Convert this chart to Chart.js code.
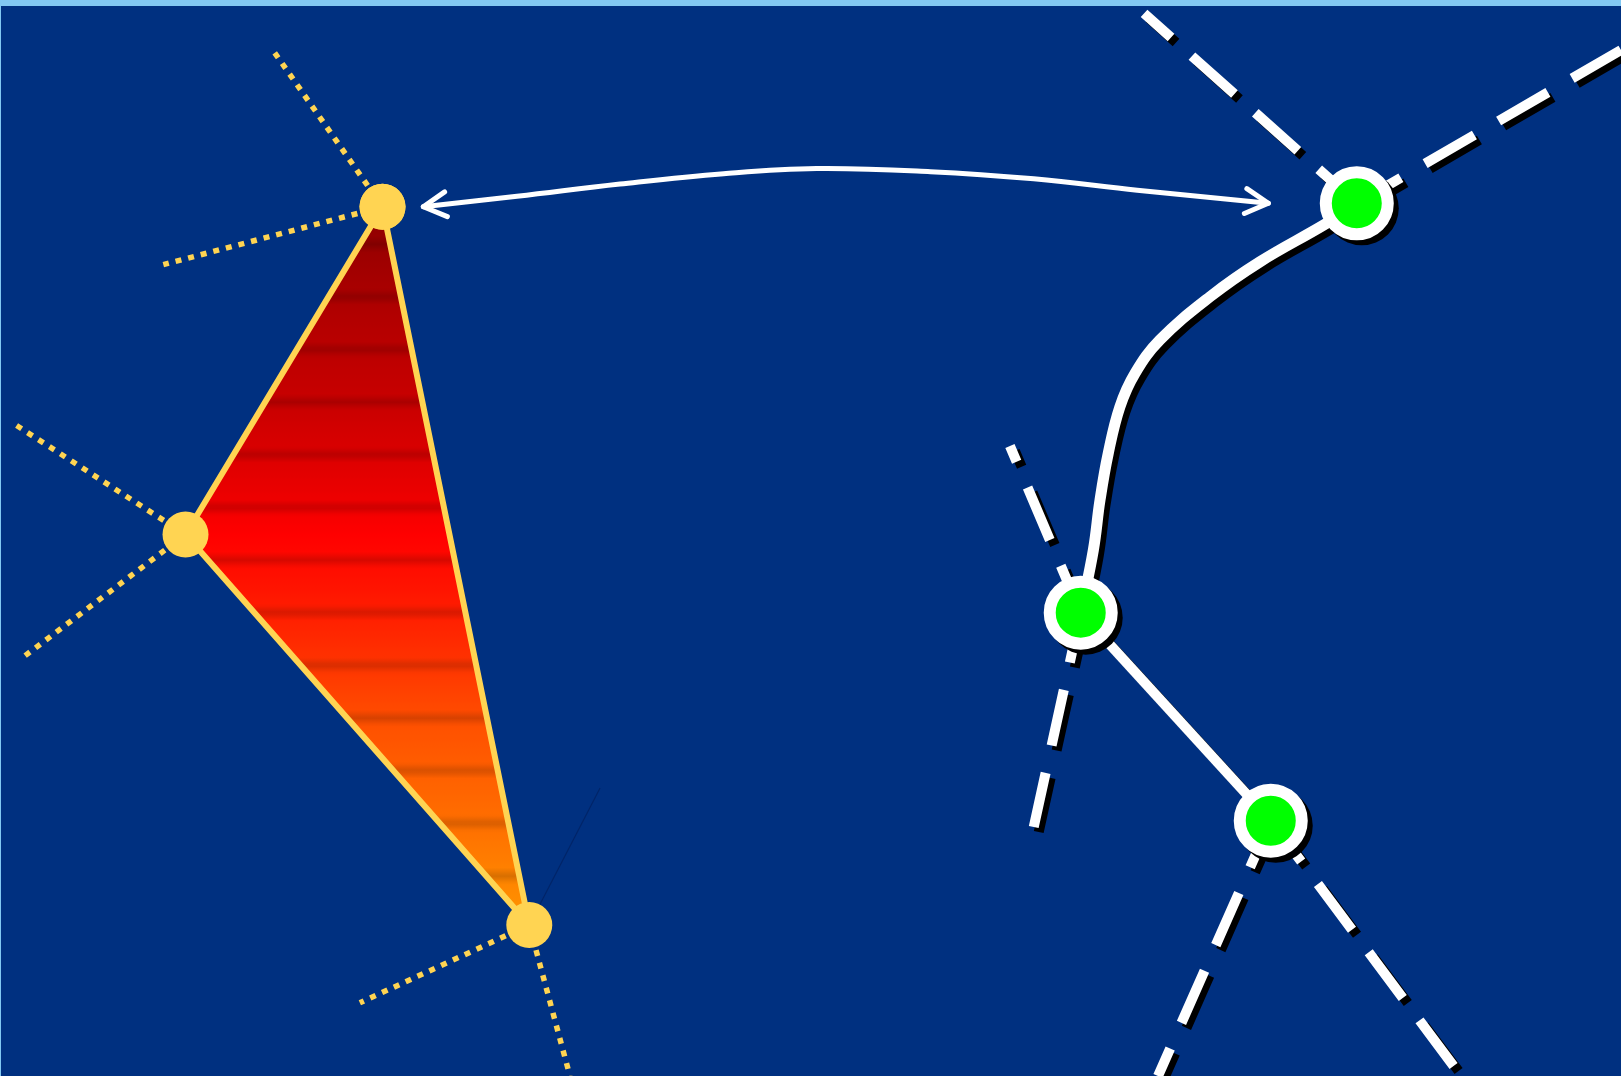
<!DOCTYPE html>
<html>
<head>
    <title>Spline Editor</title>
    <script src="https://cdn.jsdelivr.net/npm/chart.js"></script>
    <style>
        body { margin: 0; background: #82c8f2; overflow: hidden; }
    </style>
</head>
<body>
    <canvas id="editorChart" width="1621" height="1076"></canvas>

    <script>
        // plot units: x 0-100 left to right, y 0-100 bottom to top
        const triangleX = [23.55, 11.39, 32.61];
        const triangleY = [81.23, 50.61, 14.11];

        // dotted yellow guides, two per triangle corner
        const guideFrom = [0, 0, 1, 1, 2, 2];
        const guideX = [16.70, 10.02, 0.70, 1.34, 22.15, 35.12];
        const guideY = [96.05, 75.83, 61.05, 39.11, 6.84, 0];

        // green nodes and their dashed handles
        const nodeX = [83.69, 66.65, 78.38];
        const nodeY = [81.56, 43.30, 23.86];
        const handleFrom = [0, 0, 1, 1, 2, 2];
        const handleX = [70.56, 100, 62.28, 63.75, 71.42, 90.12];
        const handleY = [99.31, 95.89, 58.88, 23.27, 0, 0];

        // thick curve from first node to second
        const curveX = [83.69, 81.83, 77.72, 74.63, 71.54, 70.00, 69.07, 68.35, 67.84, 67.43, 66.65];
        const curveY = [81.56, 79.69, 76.10, 72.83, 68.79, 65.67, 62.55, 58.20, 53.83, 49.16, 43.30];

        // double headed arrow
        const arrowX = [26.07, 31.85, 38.21, 44.61, 50.35, 57.37, 63.75, 70.14, 78.23];
        const arrowY = [81.24, 82.21, 83.36, 84.33, 84.81, 84.52, 83.85, 82.79, 81.56];

        // faint line leaving the lower corner
        const faintX = [32.61, 36.98];
        const faintY = [14.11, 26.92];

        const navy = '#003080';
        const yellow = '#ffd452';

        const pt = (xs, ys, i) => ({ x: xs[i], y: ys[i] });

        // red to orange fill with darker horizontal bands
        const fillStops = [0, 0.143, 0.287, 0.389, 0.457, 0.575, 0.72, 0.864, 0.95, 1];
        const fillColors = [[140,0,0],[176,0,0],[204,0,0],[232,0,0],[255,0,0],[255,32,0],[255,80,0],[255,112,0],[255,136,0],[255,152,0]];

        function baseColor(t) {
            for (let i = 1; i < fillStops.length; i++) {
                if (t <= fillStops[i]) {
                    const f = (t - fillStops[i - 1]) / (fillStops[i] - fillStops[i - 1]);
                    return fillColors[i - 1].map((c, k) => c + (fillColors[i][k] - c) * f);
                }
            }
            return fillColors[fillColors.length - 1];
        }

        function triangleFill(context) {
            const chart = context.chart;
            if (!chart.chartArea) return 'red';
            const y = chart.scales.y;
            const top = y.getPixelForValue(triangleY[0]);
            const bottom = y.getPixelForValue(triangleY[2]);
            const g = chart.ctx.createLinearGradient(0, top, 0, bottom);
            const first = 0.1253, period = 0.0733, half = 0.011;
            for (let t = 0; t <= 1.0001; t += 0.004) {
                const tt = Math.min(t, 1);
                let d = ((tt - first) % period + period) % period;
                d = Math.min(d, period - d);
                const dark = 1 - 0.16 * Math.max(0, 1 - d / half);
                const c = baseColor(tt).map(v => Math.round(v * dark));
                g.addColorStop(tt, `rgb(${c[0]},${c[1]},${c[2]})`);
            }
            return g;
        }

        const datasets = [];

        datasets.push({
            label: 'nodes',
            data: nodeX.map((x, i) => pt(nodeX, nodeY, i)),
            pointRadius: 31,
            pointBorderWidth: 12,
            pointBackgroundColor: '#00ff00',
            pointBorderColor: '#ffffff',
            pointShadow: true,
            order: 0
        });

        datasets.push({
            label: 'arrow',
            data: arrowX.map((x, i) => pt(arrowX, arrowY, i)),
            showLine: true,
            tension: 0.4,
            borderColor: '#ffffff',
            borderWidth: 5,
            borderCapStyle: 'round',
            pointRadius: 0,
            arrows: true,
            order: 1
        });

        datasets.push({
            label: 'curve',
            data: curveX.map((x, i) => pt(curveX, curveY, i)),
            showLine: true,
            tension: 0.4,
            borderColor: '#ffffff',
            borderWidth: 11,
            borderCapStyle: 'round',
            borderJoinStyle: 'round',
            pointRadius: 0,
            shadow: true,
            order: 2
        });

        datasets.push({
            label: 'link',
            data: [pt(nodeX, nodeY, 1), pt(nodeX, nodeY, 2)],
            showLine: true,
            borderColor: '#ffffff',
            borderWidth: 10,
            pointRadius: 0,
            shadow: true,
            order: 2
        });

        handleX.forEach((x, i) => {
            datasets.push({
                label: 'handle ' + i,
                data: [pt(nodeX, nodeY, handleFrom[i]), pt(handleX, handleY, i)],
                showLine: true,
                borderColor: '#ffffff',
                borderWidth: 10,
                borderDash: [57, 28],
                borderDashOffset: 6,
                pointRadius: 0,
                shadow: true,
                order: 3
            });
        });

        datasets.push({
            label: 'triangle',
            data: [0, 1, 2, 0].map(i => pt(triangleX, triangleY, i)),
            showLine: true,
            fill: 'shape',
            backgroundColor: triangleFill,
            borderColor: yellow,
            borderWidth: 6,
            borderJoinStyle: 'round',
            pointRadius: 23,
            pointBorderWidth: 0,
            pointBackgroundColor: yellow,
            order: 4
        });

        guideX.forEach((x, i) => {
            datasets.push({
                label: 'guide ' + i,
                data: [pt(triangleX, triangleY, guideFrom[i]), pt(guideX, guideY, i)],
                showLine: true,
                borderColor: yellow,
                borderWidth: 5.5,
                borderDash: [6, 7],
                pointRadius: 0,
                order: 5
            });
        });

        datasets.push({
            label: 'faint',
            data: faintX.map((x, i) => pt(faintX, faintY, i)),
            showLine: true,
            borderColor: 'rgba(0, 10, 50, 0.3)',
            borderWidth: 1.2,
            pointRadius: 0,
            order: 6
        });

        const background = {
            id: 'background',
            beforeDraw(chart) {
                const { ctx, chartArea: a } = chart;
                ctx.save();
                ctx.fillStyle = '#82c8f2';
                ctx.fillRect(0, 0, chart.width, chart.height);
                ctx.fillStyle = navy;
                ctx.fillRect(a.left, a.top, a.right - a.left, a.bottom - a.top);
                ctx.restore();
            }
        };

        // hard black drop shadow, offset down-right
        const shadowOffset = 5;
        const shadows = {
            id: 'shadows',
            beforeDatasetDraw(chart, args) {
                const ds = chart.data.datasets[args.index];
                const ctx = chart.ctx;
                if (ds.pointShadow) {
                    ctx.save();
                    ctx.fillStyle = '#000000';
                    args.meta.data.forEach(el => {
                        const r = el.options.radius + el.options.borderWidth / 2;
                        ctx.beginPath();
                        ctx.arc(el.x + shadowOffset, el.y + shadowOffset, r, 0, Math.PI * 2);
                        ctx.fill();
                    });
                    ctx.restore();
                }
                if (!ds.shadow) return;
                ctx.save();
                ctx.shadowColor = '#000000';
                ctx.shadowOffsetX = shadowOffset;
                ctx.shadowOffsetY = shadowOffset;
                ctx.shadowBlur = 0;
            },
            afterDatasetDraw(chart, args) {
                if (chart.data.datasets[args.index].shadow) chart.ctx.restore();
            }
        };

        const arrowHeads = {
            id: 'arrowHeads',
            afterDatasetDraw(chart, args) {
                const ds = chart.data.datasets[args.index];
                if (!ds.arrows) return;
                const pts = args.meta.data;
                const first = pts[0], last = pts[pts.length - 1];
                const ends = [
                    [first, first.cp2x ?? pts[1].x, first.cp2y ?? pts[1].y],
                    [last, last.cp1x ?? pts[pts.length - 2].x, last.cp1y ?? pts[pts.length - 2].y]
                ];
                const ctx = chart.ctx;
                const len = 26, spread = 0.5;
                ctx.save();
                ctx.strokeStyle = ds.borderColor;
                ctx.lineWidth = ds.borderWidth;
                ctx.lineCap = 'round';
                ctx.lineJoin = 'round';
                ends.forEach(([tip, cx, cy]) => {
                    const a = Math.atan2(tip.y - cy, tip.x - cx);
                    ctx.beginPath();
                    ctx.moveTo(tip.x - len * Math.cos(a - spread), tip.y - len * Math.sin(a - spread));
                    ctx.lineTo(tip.x, tip.y);
                    ctx.lineTo(tip.x - len * Math.cos(a + spread), tip.y - len * Math.sin(a + spread));
                    ctx.stroke();
                });
                ctx.restore();
            }
        };

        const ctx = document.getElementById('editorChart').getContext('2d');
        const editorChart = new Chart(ctx, {
            type: 'scatter',
            data: { datasets: datasets },
            options: {
                responsive: false,
                animation: false,
                events: [],
                layout: { autoPadding: false, padding: { top: 6, left: 1, right: 0, bottom: 0 } },
                scales: {
                    x: { type: 'linear', min: 0, max: 100, display: false },
                    y: { type: 'linear', min: 0, max: 100, display: false }
                },
                plugins: {
                    legend: { display: false },
                    tooltip: { enabled: false }
                }
            },
            plugins: [background, shadows, arrowHeads]
        });
    </script>
</body>
</html>
